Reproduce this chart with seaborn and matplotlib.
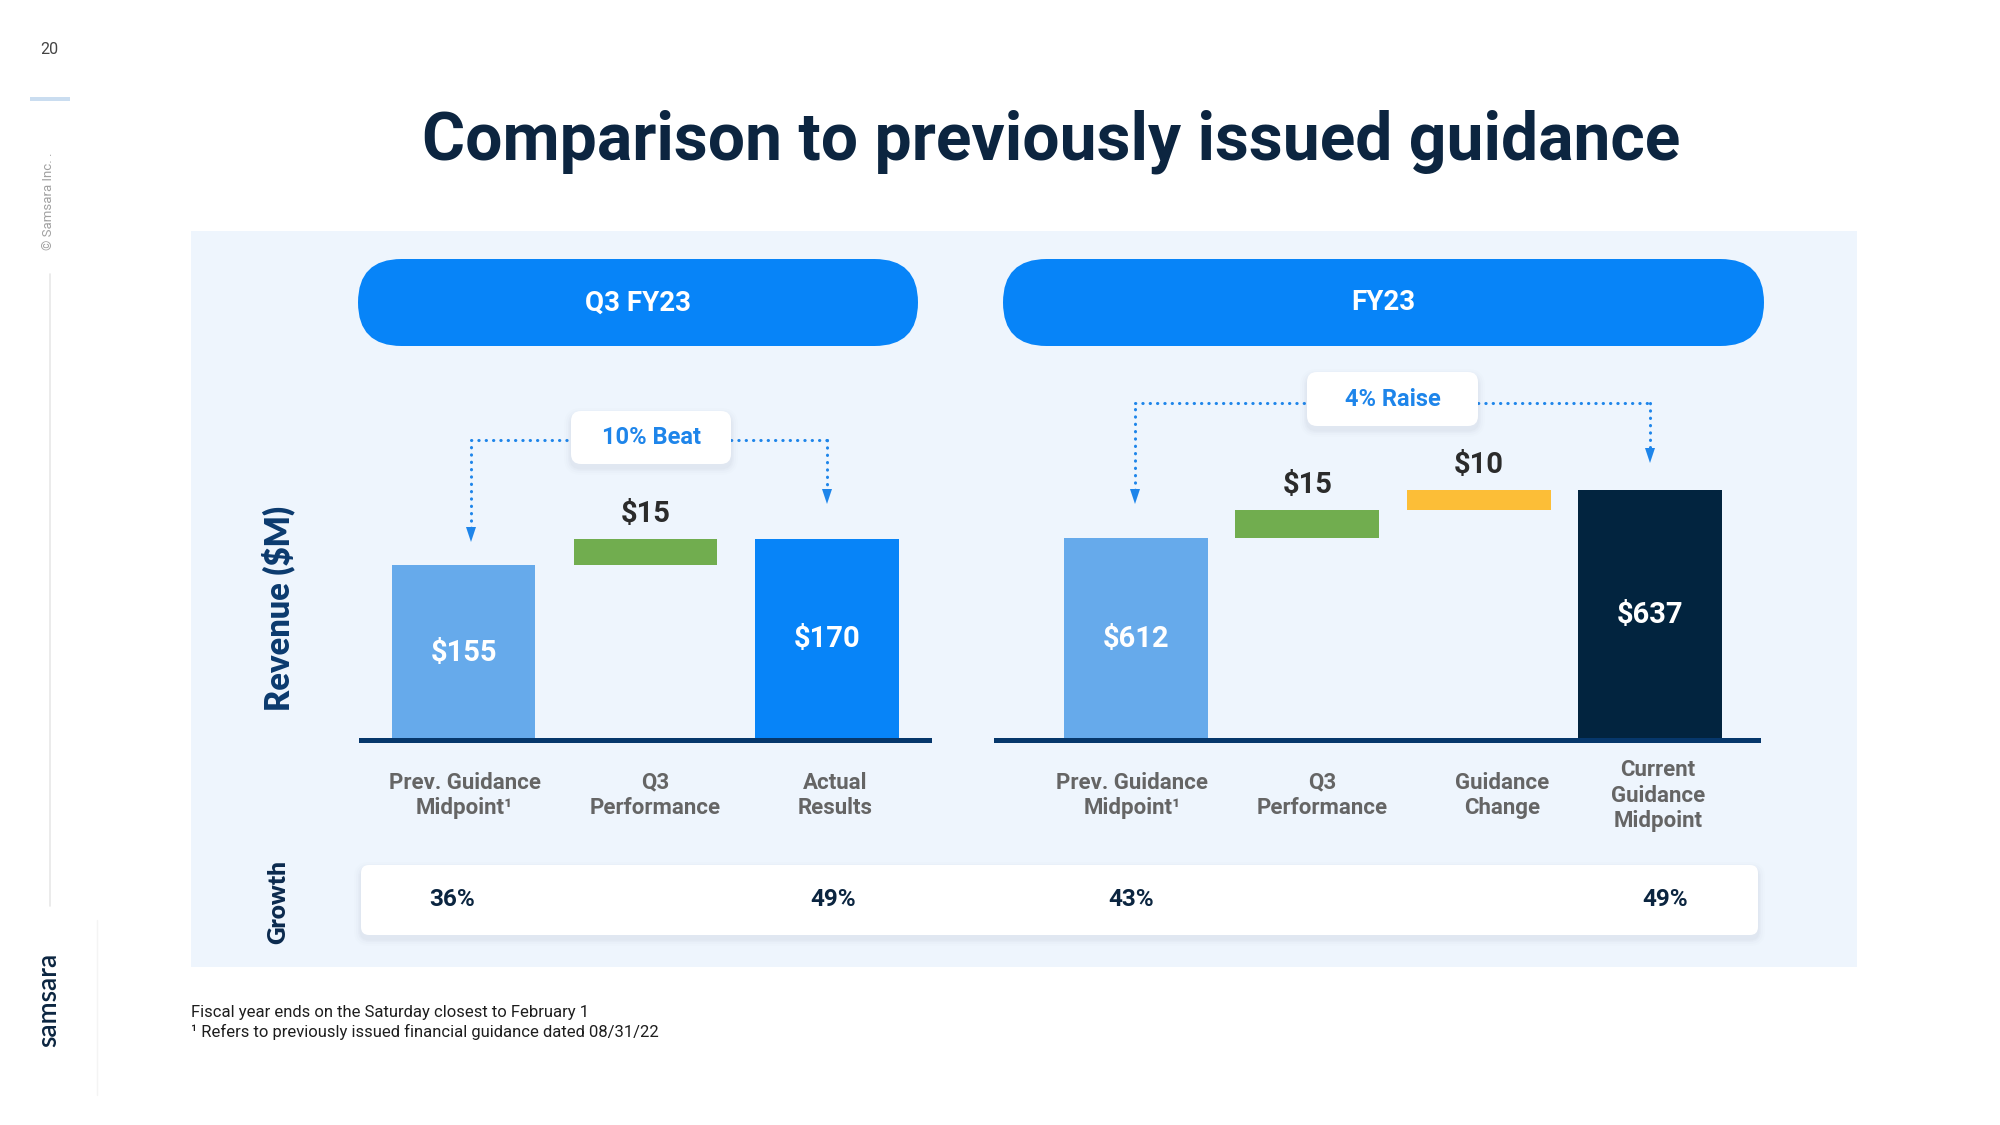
import numpy as np
import pandas as pd
import matplotlib
matplotlib.use("Agg")
import matplotlib.pyplot as plt
import matplotlib.transforms as mtransforms
from matplotlib.patches import FancyBboxPatch, Polygon, Rectangle
import seaborn as sns

# ---------------- data ----------------
q3_categories = ["Prev. Guidance\nMidpoint¹", "Q3\nPerformance", "Actual\nResults"]
q3_heights = [155, 15, 170]
q3_bottoms = [0, 155, 0]
q3_labels = ["$155", "$15", "$170"]
q3_growth = ["36%", "", "49%"]

fy_categories = ["Prev. Guidance\nMidpoint¹", "Q3\nPerformance", "Guidance\nChange",
                 "Current\nGuidance\nMidpoint"]
fy_heights = [612, 15, 10, 637]
fy_bottoms = [0, 612, 627, 0]
fy_labels = ["$612", "$15", "$10", "$637"]
fy_growth = ["43%", "", "", "49%"]

q3_colors = ["#66AAEB", "#71AD4F", "#0784F8"]
fy_colors = ["#66AAEB", "#71AD4F", "#FCBE37", "#02243F"]

title = "Comparison to previously issued guidance"
panel_titles = ["Q3 FY23", "FY23"]
callouts = ["10% Beat", "4% Raise"]
footnotes = ["Fiscal year ends on the Saturday closest to February 1",
             "¹ Refers to previously issued financial guidance dated 08/31/22"]

# ---------------- style ----------------
sns.set_style("white")
plt.rcParams["font.family"] = ["Roboto", "DejaVu Sans"]
GEO = ["Lato", "Roboto", "DejaVu Sans"]

W, H = 2000, 1125
fig = plt.figure(figsize=(20, 11.25), dpi=100)
fig.patch.set_facecolor("white")

# background overlay in pixel coordinates (y down)
bg = fig.add_axes([0, 0, 1, 1], zorder=0)
bg.set_xlim(0, W); bg.set_ylim(H, 0); bg.axis("off")
fg = fig.add_axes([0, 0, 1, 1], zorder=3)
fg.set_xlim(0, W); fg.set_ylim(H, 0); fg.axis("off")
fg.patch.set_alpha(0)


def shadow_box(axo, x0, y0, x1, y1, r, z=1):
    for k, a in [(14, 0.012), (10, 0.02), (6, 0.03), (3, 0.04)]:
        axo.add_patch(FancyBboxPatch((x0 - k / 2, y0 + 4 - k / 2), (x1 - x0) + k, (y1 - y0) + k,
                                     boxstyle=f"round,pad=0,rounding_size={r + k / 2}",
                                     fc="#6A7F99", ec="none", alpha=a, zorder=z))
    axo.add_patch(FancyBboxPatch((x0, y0), x1 - x0, y1 - y0,
                                 boxstyle=f"round,pad=0,rounding_size={r}",
                                 fc="white", ec="none", zorder=z + 0.1))


# sidebar
bg.text(49, 49, "20", ha="center", va="center", fontsize=11.5, color="#444444")
bg.add_patch(Rectangle((30, 97), 40, 4, fc="#CADDF0", ec="none"))
bg.text(49, 201, "© Samsara Inc. .", rotation=90, ha="center", va="center",
        fontsize=9.5, color="#A0A0A0")
bg.plot([49.5, 49.5], [274, 906], color="#E8E8E8", lw=1.2)
bg.text(49, 1000, "samsara", rotation=90, ha="center", va="center",
        fontsize=19, fontweight="semibold", color="#0B2540", family=GEO)
bg.plot([97, 97], [920, 1095], color="#F4F4F4", lw=1)

# title
bg.text(1051, 142, title, ha="center", va="center", fontsize=47.5,
        fontweight="bold", color="#0C2540")

# panel background
bg.add_patch(Rectangle((191, 231), 1666, 736, fc="#EEF5FD", ec="none"))

# pills
for (x0, x1), t in zip([(358, 918), (1003, 1764)], panel_titles):
    bg.add_patch(FancyBboxPatch((x0, 259), x1 - x0, 87,
                                boxstyle="round,pad=0,rounding_size=43.5",
                                fc="#0784F8", ec="none"))
    bg.text((x0 + x1) / 2, 303, t, ha="center", va="center", color="white",
            fontsize=20, fontweight="bold")

# side labels
bg.text(278, 608, "Revenue ($M)", rotation=90, ha="center", va="center",
        fontsize=23.5, fontweight="heavy", color="#0B3A6E", family=GEO)
bg.text(278, 902, "Growth", rotation=90, ha="center", va="center",
        fontsize=17.5, fontweight="heavy", color="#0B2A4E", family=GEO)

# growth row box
shadow_box(bg, 361, 865, 1758, 935, 8)

# footnotes
bg.text(191, 1012, footnotes[0], ha="left", va="center", fontsize=12, color="#1E1E1E")
bg.text(191, 1032, footnotes[1], ha="left", va="center", fontsize=12, color="#1E1E1E")

# ---------------- charts ----------------
BASE = 740
TOP = 380


def make_chart(x0, x1, cats, heights, bottoms, labels, colors, growth,
               lo, px_per_unit, width, xlim, label_dx, growth_x):
    ax = fig.add_axes([x0 / W, 1 - BASE / H, (x1 - x0) / W, (BASE - TOP) / H], zorder=1)
    ax.patch.set_alpha(0)
    df = pd.DataFrame({"cat": cats, "value": heights})
    sns.barplot(data=df, x="cat", y="value", bottom=bottoms, width=width,
                errorbar=None, color=colors[0], saturation=1, ax=ax)
    for p, c in zip(ax.patches, colors):
        p.set_facecolor(c)
        p.set_edgecolor("none")
    ax.set_xlim(*xlim)
    ax.set_ylim(lo, lo + (BASE - TOP) / px_per_unit)
    for s in ["top", "left", "right"]:
        ax.spines[s].set_visible(False)
    ax.spines["bottom"].set_color("#06376B")
    ax.spines["bottom"].set_linewidth(3.6)
    ax.set_yticks([])
    ax.set_xlabel(""); ax.set_ylabel("")
    ax.tick_params(axis="x", length=0, pad=40)
    for lbl, dx in zip(ax.get_xticklabels(), label_dx):
        lbl.set_fontweight("bold")
        lbl.set_fontsize(16)
        lbl.set_color("#656565")
        lbl.set_va("center")
        lbl.set_linespacing(1.2)
        lbl.set_transform(lbl.get_transform() +
                          mtransforms.ScaledTranslation(dx / 100, 0, fig.dpi_scale_trans))
    for i, (h, b, t) in enumerate(zip(heights, bottoms, labels)):
        if b > 0:
            ax.annotate(t, (i, b + h), xytext=(0, 18), textcoords="offset points",
                        ha="center", va="center", fontsize=21, fontweight="bold",
                        color="#2B2B2B", annotation_clip=False)
        else:
            ax.text(i, (lo + h) / 2, t, ha="center", va="center", fontsize=21,
                    fontweight="bold", color="white")
    for g, gx in zip([g for g in growth if g], growth_x):
        bg.text(gx, 899, g, ha="center", va="center", fontsize=17.5,
                fontweight="bold", color="#0B2540", zorder=5)
    return ax


ax1 = make_chart(361, 929, q3_categories, q3_heights, q3_bottoms, q3_labels,
                 q3_colors, q3_growth, lo=55, px_per_unit=1.75, width=0.79,
                 xlim=(-0.564, 2.56), label_dx=[1, 10, 8], growth_x=[452, 833])
ax2 = make_chart(996, 1758, fy_categories, fy_heights, fy_bottoms, fy_labels,
                 fy_colors, fy_growth, lo=507, px_per_unit=1.92, width=0.84,
                 xlim=(-0.817, 3.63), label_dx=[-4, 15, 23, 8], growth_x=[1131, 1665])

# ---------------- callouts ----------------
BLUE = "#1E85EA"


def arrow_path(xs, ys):
    fg.plot(xs, ys, ls=(0, (0.1, 2.3)), lw=2.2, color=BLUE, dash_capstyle="round",
            solid_capstyle="round")


def head(x, ytip):
    fg.add_patch(Polygon([(x - 5, ytip - 15), (x + 5, ytip - 15), (x, ytip)],
                         closed=True, fc=BLUE, ec="none"))


def callout(box, text, yline, xl, ytl, xr, ytr):
    x0, y0, x1, y1 = box
    arrow_path([xl, xl], [ytl - 14, yline])
    arrow_path([xl, x0], [yline, yline])
    arrow_path([x1, xr], [yline, yline])
    arrow_path([xr, xr], [yline, ytr - 14])
    head(xl, ytl)
    head(xr, ytr)
    shadow_box(fg, x0, y0, x1, y1, 10, z=2)
    fg.text((x0 + x1) / 2, (y0 + y1) / 2, text, ha="center", va="center",
            fontsize=17, fontweight="bold", color=BLUE, zorder=4)


callout((571, 411, 731, 464), callouts[0], 440, 471, 542, 827, 504)
callout((1307, 372, 1478, 426), callouts[1], 403, 1135, 504, 1650, 463)

fig.savefig("out.png", dpi=100, facecolor="white")
